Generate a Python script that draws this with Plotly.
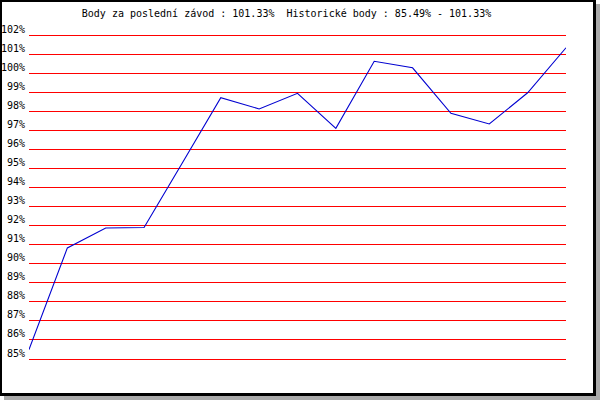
import plotly.graph_objects as go

# body z jednotlivých závodů (v %)
races = list(range(15))
points = [85.49, 90.83, 91.87, 91.90, 95.30, 98.71, 98.12, 98.94,
          97.10, 100.62, 100.28, 97.89, 97.33, 98.97, 101.33]
tick_vals = list(range(85, 103))
tick_text = [f"{v}%" for v in tick_vals]
title_text = "Body za poslední závod : 101.33%  Historické body : 85.49% - 101.33%"

W, H = 600, 400
SP = 3  # spare pixels so the edge gridlines are still drawn
L, R, T, B = 29, 566, 35 - SP, 359 + SP  # plot area in pixels
Y0, Y1 = 85, 102
unit = (Y1 - Y0) / (B - T - 2 * SP)  # value per pixel
y_range = [Y0 - SP * unit, Y1 + SP * unit]


def px_x(v):
    return (v - L) / (R - L)


def px_y(v):
    return (B - v) / (B - T)


def rect(x0, y0, x1, y1, color):
    return dict(type="rect", xref="paper", yref="paper",
                x0=px_x(x0), x1=px_x(x1), y0=px_y(y1), y1=px_y(y0),
                fillcolor=color, line={"width": 0}, layer="above")


fig = go.Figure()
fig.add_trace(go.Scatter(x=races, y=points, mode="lines",
                         line={"color": "#0000d0", "width": 1.1},
                         hoverinfo="skip"))

fig.update_layout(
    width=W, height=H,
    margin=dict(l=L, r=W - R, t=T, b=H - B, pad=0, autoexpand=False),
    paper_bgcolor="white", plot_bgcolor="white",
    showlegend=False,
    font={"family": "DejaVu Sans Mono", "size": 10, "color": "black"},
    title={"text": title_text, "x": 286.5 / W, "xanchor": "center",
           "y": 1 - 13.5 / H, "yanchor": "middle",
           "font": {"family": "DejaVu Sans Mono", "size": 10, "color": "black"}},
    shapes=[
        # shadow
        rect(596, 4, 600, 400, "#aaaaaa"),
        rect(4, 396, 600, 400, "#aaaaaa"),
        # black frame
        rect(0, 0, 2, 396, "black"),
        rect(0, 0, 596, 2, "black"),
        rect(593, 0, 596, 396, "black"),
        rect(0, 393, 596, 396, "black"),
    ],
)
fig.update_xaxes(range=[0, 14], visible=False, showgrid=False, zeroline=False,
                 automargin=False)
fig.update_yaxes(range=y_range, tickvals=tick_vals, ticktext=tick_text,
                 showgrid=True, gridcolor="red", gridwidth=1,
                 zeroline=False, showline=False, ticks="", automargin=False,
                 ticklabelshift=-6, ticklabelstandoff=3)

fig.write_html("out.html", config={"displayModeBar": False},
               post_script="document.body.style.margin='0';")
